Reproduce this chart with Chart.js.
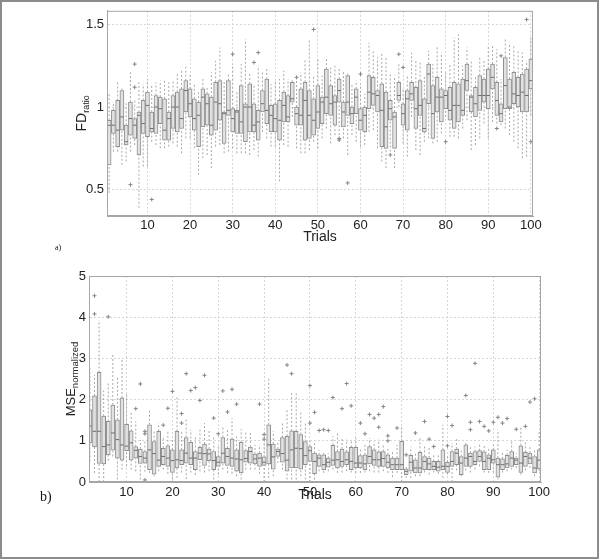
<!DOCTYPE html>
<html>
<head>
<meta charset="utf-8">
<script src="https://cdn.jsdelivr.net/npm/chart.js@4.4.1/dist/chart.umd.min.js"></script>
<style>
  html, body { margin: 0; padding: 0; background: #fff; }
  #fig { position: relative; width: 600px; height: 560px; overflow: hidden; }
  #frame { position: absolute; left: 0; top: 0; width: 595px; height: 555px; border: 2px solid #8c8c8c; }
  canvas { position: absolute; left: 0; }
  #cTop { top: 0; }
  #cBottom { top: 250px; }
  .lbl { position: absolute; font-family: "Liberation Serif", "DejaVu Serif", serif; color: #111; line-height: 1; }
  #la { left: 55px; top: 244px; font-size: 8px; }
  #lb { left: 40px; top: 490px; font-size: 14px; }
</style>
</head>
<body>
<div id="fig">
  <div id="frame"></div>
  <canvas id="cTop" width="600" height="250"></canvas>
  <canvas id="cBottom" width="600" height="260"></canvas>
  <div class="lbl" id="la">a)</div>
  <div class="lbl" id="lb">b)</div>
</div>
<script>
// trials 1..100 (category positions)
const trials = [];
for (let i = 1; i <= 100; i++) trials.push(i);

const xTicks = [10, 20, 30, 40, 50, 60, 70, 80, 90, 100];
const fdTicks = [0.5, 1, 1.5];
const mseTicks = [0, 1, 2, 3, 4, 5];

// a) FD ratio boxplots
const fdLow = [.48,.73,.73,.65,.67,.73,.77,.39,.64,.64, .79,.77,.75,.75,.76,.78,.76,.72,.81,.81,
  .75,.59,.69,.71,.63,.76,.77,.72,.73,.75, .72,.72,.72,.71,.74,.70,.85,.81,.76,.76,
  .55,.77,.76,.94,.75,.72,.72,.74,.79,.75, .81,.87,.78,.83,.83,.81,.71,.83,.79,.76,
  .77,.85,.86,.75,.67,.63,.73,.63,1.00,.78, .70,.94,.74,.71,.79,.81,.78,.79,.84,.94,
  .82,.82,.81,.87,.92,.74,.77,.81,.90,.81, .91,.90,.89,.87,.83,.79,.75,.69,.70,.95];
const fdQ1 = [.65,.84,.76,.86,.77,.83,.81,.71,.84,.82, .85,.84,.90,.80,.80,.87,.85,.87,.97,.94,
  .86,.76,.88,.89,.83,.86,.92,.78,.95,.85, .84,.84,.79,.85,.85,.80,.97,.90,.85,.85,
  .80,.91,.91,1.03,.89,.89,.80,.81,.83,.87, .90,.96,.95,.89,1.03,.88,.95,.90,.96,.86,
  .85,.99,1.01,.97,.76,.75,.92,.75,1.04,.89, .86,1.04,.87,.95,.85,1.02,.81,.97,.91,.99,
  .92,.87,.91,.95,1.10,.97,.94,.98,1.03,.99, 1.11,.95,.91,.99,.99,1.02,1.00,.97,.97,1.11];
const fdMed = [.89,.89,.86,.94,.79,.93,.89,.95,.90,1.01, .87,1.00,.99,.86,.93,1.00,1.00,.93,1.10,1.02,
  .93,.95,1.06,1.02,.89,1.03,1.02,.96,.98,.93, .97,.91,1.00,1.00,.89,.91,1.02,.98,.95,.93,
  .92,1.01,.94,1.05,.96,.95,1.04,.95,.92,.97, 1.03,1.06,1.02,1.03,1.10,.97,1.03,.96,1.06,.92,
  .95,1.09,1.08,1.07,.98,.88,.99,.94,1.07,.96, 1.05,1.08,.99,1.01,.87,1.20,.96,1.06,1.06,1.07,
  .98,1.01,1.01,.98,1.16,1.06,1.02,1.07,1.07,1.07, 1.18,1.04,.96,1.13,1.00,1.08,1.07,1.09,1.07,1.16];
const fdQ3 = [.92,.98,1.04,1.10,.89,1.03,.93,.97,1.04,1.09, .97,1.07,1.06,1.05,.97,1.07,1.09,1.11,1.16,1.11,
  1.05,1.03,1.11,1.08,1.06,1.15,1.16,.97,1.16,.99, .98,1.13,1.02,1.14,1.02,.98,1.10,1.17,1.01,1.02,
  1.04,1.09,1.07,1.15,1.00,1.11,1.15,1.10,1.05,1.13, 1.06,1.23,1.13,1.07,1.17,1.03,1.19,1.00,1.11,.99,
  1.00,1.19,1.18,1.10,1.14,1.09,1.04,.97,1.15,1.02, 1.10,1.15,1.12,1.16,1.05,1.26,1.13,1.18,1.11,1.10,
  1.12,1.15,1.14,1.17,1.26,1.07,1.12,1.19,1.17,1.23, 1.26,1.15,1.02,1.30,1.17,1.21,1.18,1.20,1.23,1.29];
const fdHigh = [1.09,1.03,1.15,1.12,1.03,1.21,1.05,1.15,1.14,1.17, 1.14,1.15,1.16,1.17,1.15,1.16,1.20,1.22,1.25,1.20,
  1.14,1.09,1.17,1.12,1.21,1.28,1.36,1.16,1.20,1.26, 1.10,1.26,1.41,1.21,1.13,1.25,1.22,1.24,1.14,1.16,
  1.17,1.22,1.17,1.17,1.16,1.21,1.29,1.41,1.19,1.29, 1.19,1.30,1.25,1.25,1.24,1.22,1.21,1.14,1.16,1.14,
  1.08,1.39,1.34,1.30,1.33,1.30,1.21,1.19,1.26,1.11, 1.19,1.33,1.29,1.28,1.19,1.34,1.26,1.37,1.33,1.22,
  1.26,1.42,1.44,1.25,1.36,1.28,1.18,1.30,1.28,1.37, 1.37,1.35,1.17,1.42,1.39,1.37,1.34,1.33,1.28,1.42];
const fdOutTrial = [6, 7, 7, 11, 30, 35, 36, 45, 49, 55, 55, 57, 60, 67, 69, 70, 80, 92, 93, 99, 100];
const fdOutValue = [.53, 1.12, 1.26, .44, 1.32, 1.27, 1.33, 1.18, 1.47, .80, .81, .54, 1.20, .71, 1.32, 1.24, .79, .87, 1.31, 1.53, .79];

// b) normalized MSE boxplots (trial 1 lies outside the visible range)
const mseLow = [null,.50,.22,0,0,.52,.62,.06,.30,.38, .30,.26,.06,.25,.22,.14,.26,.30,.20,.06,
  .10,.23,.07,.23,.17,.26,.23,.26,.06,.18, .30,.22,.20,.14,.06,.30,.30,.30,.20,0,
  .10,.14,.46,.30,.06,.06,.06,.14,.06,0, .06,.26,.22,.26,.30,.22,.23,.26,.23,.22,
  .22,.23,.26,.23,.23,.26,.22,.12,.22,0, .10,.10,.14,.14,.23,.18,.23,.20,.10,.18,
  0,.28,.14,.28,.23,.30,.38,.23,.22,.23, .06,.23,.26,.30,.34,.18,.28,.34,.14,.26];
const mseQ1 = [null,.95,.85,.45,.44,.66,.77,.58,.53,.76, .53,.58,.45,.46,.30,.19,.38,.42,.38,.23,
  .34,.42,.46,.42,.30,.54,.40,.52,.30,.38, .46,.40,.38,.26,.22,.48,.46,.44,.38,.40,
  .44,.31,.62,.48,.26,.34,.34,.31,.42,.50, .20,.38,.30,.36,.40,.34,.38,.42,.30,.34,
  .34,.30,.44,.40,.38,.38,.34,.30,.30,.30, .18,.26,.22,.22,.30,.30,.30,.26,.30,.23,
  .38,.42,.18,.38,.38,.42,.50,.30,.30,.46, .12,.30,.34,.38,.42,.23,.38,.44,.22,.32];
const mseMed = [null,1.36,1.23,1.23,.86,.90,1.19,1.03,.90,.87, .95,.77,.62,.58,.78,.69,.53,.62,.58,.52,
  .54,.52,.70,.58,.58,.70,.69,.68,.52,.48, .70,.62,.58,.56,.54,.57,.74,.56,.58,.48,
  .90,.61,.74,.69,.53,.78,.82,.81,.64,.76, .50,.58,.42,.48,.53,.54,.50,.54,.50,.46,
  .46,.44,.62,.54,.54,.57,.48,.42,.42,.42, .26,.48,.34,.34,.50,.44,.38,.36,.38,.38,
  .50,.70,.46,.58,.62,.50,.62,.50,.58,.54, .42,.42,.44,.58,.53,.46,.62,.58,.34,.53];
const mseQ3 = [null,1.75,2.09,2.66,1.60,1.47,1.87,1.51,2.04,1.40, 1.24,.86,.80,.74,1.39,.98,1.23,.82,.88,.78,
  1.23,.78,1.08,.96,.74,.84,.92,.80,.74,.62, 1.08,.82,1.04,.78,.96,.76,.85,.68,.70,.61,
  1.39,.92,.80,1.08,1.11,1.24,1.23,1.15,.98,.86, .70,.66,.66,.58,.89,.74,.80,.73,.84,.84,
  .64,.66,.86,.78,.73,.74,.66,.58,.58,.99, .32,.65,.54,.72,.62,.58,.50,.50,.78,.48,
  .74,.80,.62,.90,.70,.74,.76,.73,.66,.78, .58,.56,.65,.74,.58,.88,.72,.70,.62,.78];
const mseHigh = [null,2.76,2.60,3.93,2.22,2.42,3.10,2.56,3.00,2.17, 1.71,1.47,1.02,.98,1.77,1.27,1.43,1.12,1.23,1.02,
  2.08,1.23,1.55,1.27,1.11,1.27,1.43,1.27,1.11,.86, 1.35,1.27,1.55,1.11,1.28,1.23,1.23,.90,.90,.98,
  2.54,1.23,.97,1.47,1.79,2.16,2.16,1.71,1.43,.99, .99,.78,.74,.70,1.11,1.23,1.07,1.03,.99,1.07,
  .82,.91,1.07,.99,1.03,.91,.86,.74,.90,1.37, .42,.86,.70,1.11,.91,.82,.66,.66,1.39,.62,
  .95,1.04,.78,.95,.86,.86,.91,.91,.82,.91, 1.27,.74,.78,.99,.70,1.35,.99,.86,.78,1.23];
const mseOutTrial = [3,3,6,12,13,14,14,14,18,19,20,22,22,23,24,25,26,27,29,30,31,32,33,34,39,40,40,45,46,50,50,
  51,52,53,54,55,57,58,59,61,62,63,64,65,65,66,67,67,69,71,73,75,76,77,80,80,81,84,85,85,86,87,88,89,90,91,92,93,95,97,98,99];
const mseOutValue = [4.52,4.08,4.01,1.78,2.38,1.23,1.17,0.05,1.38,1.79,2.20,1.66,1.43,2.63,2.22,2.29,1.98,2.59,1.55,1.17,2.21,1.70,2.25,1.89,1.89,1.15,1.04,2.84,2.63,2.34,1.43,
  1.69,1.25,1.27,1.25,2.05,1.78,2.39,1.85,1.43,1.17,1.64,1.55,1.64,1.33,1.83,1.12,1.00,1.31,0.66,1.19,1.47,1.04,0.86,1.59,0.88,1.37,2.10,1.45,1.27,2.88,1.47,1.35,1.24,1.45,1.57,1.43,1.54,1.28,1.35,1.94,2.02];

Chart.defaults.font.family = '"Liberation Sans", Arial, sans-serif';
Chart.defaults.color = '#222';

// box round the plot area (Chart.js only draws left and bottom)
const framePlugin = {
  id: 'frame',
  afterDraw(chart) {
    const { ctx, chartArea: a } = chart;
    ctx.save();
    ctx.strokeStyle = '#a6a6a6';
    ctx.lineWidth = 1;
    ctx.strokeRect(a.left + 0.5, a.top + 0.5, a.right - a.left - 1, a.bottom - a.top - 1);
    ctx.restore();
  }
};

// rotated y title with a subscript
const yTitlePlugin = {
  id: 'yTitle',
  afterDraw(chart, args, o) {
    const { ctx, chartArea: a } = chart;
    const cy = (a.top + a.bottom) / 2;
    const mainFont = o.mainSize + 'px "Liberation Sans", Arial, sans-serif';
    const subFont = o.subSize + 'px "Liberation Sans", Arial, sans-serif';
    ctx.save();
    ctx.translate(o.x, cy);
    ctx.rotate(-Math.PI / 2);
    ctx.fillStyle = '#222';
    ctx.textAlign = 'left';
    ctx.textBaseline = 'alphabetic';
    ctx.font = mainFont;
    const w1 = ctx.measureText(o.main).width;
    ctx.font = subFont;
    const w2 = ctx.measureText(o.sub).width;
    const start = -(w1 + w2) / 2;
    ctx.font = mainFont;
    ctx.fillText(o.main, start, 0);
    ctx.font = subFont;
    ctx.fillText(o.sub, start + w1, o.subShift);
    ctx.restore();
  }
};

function makeBoxChart(id, lo, q1, med, q3, hi, outTrial, outValue, cfg) {
  const boxes = [], whiskers = [], medians = [], outliers = [];
  trials.forEach((t, i) => {
    if (q1[i] === null) return;
    boxes.push({ x: t, y: [q1[i], q3[i]] });
    whiskers.push({ x: t, y: lo[i] }, { x: t, y: q1[i] }, { x: t, y: null },
                  { x: t, y: q3[i] }, { x: t, y: hi[i] }, { x: t, y: null });
    medians.push({ x: t - 0.4, y: med[i] }, { x: t + 0.4, y: med[i] }, { x: t, y: null });
  });
  outTrial.forEach((t, i) => outliers.push({ x: t, y: outValue[i] }));

  const gridOpts = { color: '#d6d6d6', drawTicks: false, offset: false };
  const borderOpts = { color: '#a6a6a6', dash: [2, 2] };

  return new Chart(document.getElementById(id), {
    type: 'bar',
    data: {
      datasets: [
        { type: 'line', data: whiskers, borderColor: '#a8a8a8', borderWidth: 1, borderDash: [2, 2],
          pointRadius: 0, spanGaps: false, fill: false, tension: 0, order: 3 },
        { type: 'bar', data: boxes, backgroundColor: '#e2e2e2', borderColor: '#8e8e8e', borderWidth: 1,
          borderSkipped: false, barThickness: 4, order: 2 },
        { type: 'line', data: medians, borderColor: '#6e6e6e', borderWidth: 1,
          pointRadius: 0, spanGaps: false, fill: false, tension: 0, order: 1 },
        { type: 'line', data: outliers, showLine: false, pointStyle: 'cross', pointRadius: 2,
          borderColor: '#858585', borderWidth: 1, order: 0 }
      ]
    },
    options: {
      responsive: false,
      animation: false,
      events: [],
      layout: { padding: { left: 0, right: cfg.padRight, top: cfg.padTop, bottom: 0 } },
      plugins: {
        legend: { display: false },
        tooltip: { enabled: false },
        yTitle: cfg.yTitle
      },
      scales: {
        x: {
          type: 'linear', min: cfg.xMin, max: cfg.xMax, offset: false,
          afterBuildTicks: s => { s.ticks = xTicks.map(v => ({ value: v })); },
          afterFit: s => { s.height = cfg.xHeight; },
          grid: gridOpts, border: borderOpts,
          ticks: { padding: cfg.xTickPad, font: { size: 13 }, color: '#222', maxRotation: 0, autoSkip: false,
                   callback: v => String(v) },
          title: { display: true, text: 'Trials', font: { size: 14 }, color: '#222',
                   padding: { top: 0, bottom: cfg.titlePad } }
        },
        y: {
          min: cfg.yMin, max: cfg.yMax,
          afterBuildTicks: s => { s.ticks = cfg.yTicks.map(v => ({ value: v })); },
          afterFit: s => { s.width = cfg.yWidth; },
          grid: gridOpts, border: borderOpts,
          ticks: { padding: 3, font: { size: 13 }, color: '#222', callback: v => String(v) }
        }
      }
    },
    plugins: [framePlugin, yTitlePlugin]
  });
}

makeBoxChart('cTop', fdLow, fdQ1, fdMed, fdQ3, fdHigh, fdOutTrial, fdOutValue, {
  xMin: 0.5, xMax: 100.5, yMin: 0.34, yMax: 1.583, yTicks: fdTicks,
  padRight: 67, padTop: 6, yWidth: 107, xHeight: 34, xTickPad: 2, titlePad: 4,
  yTitle: { main: 'FD', sub: 'ratio', x: 86, mainSize: 14, subSize: 9, subShift: 3 }
});

makeBoxChart('cBottom', mseLow, mseQ1, mseMed, mseQ3, mseHigh, mseOutTrial, mseOutValue, {
  xMin: 1.8, xMax: 100.4, yMin: 0, yMax: 5, yTicks: mseTicks,
  padRight: 59, padTop: 26, yWidth: 89, xHeight: 28, xTickPad: 3, titlePad: 6,
  yTitle: { main: 'MSE', sub: 'normalized', x: 75, mainSize: 13, subSize: 9.5, subShift: 3 }
});
</script>
</body>
</html>
